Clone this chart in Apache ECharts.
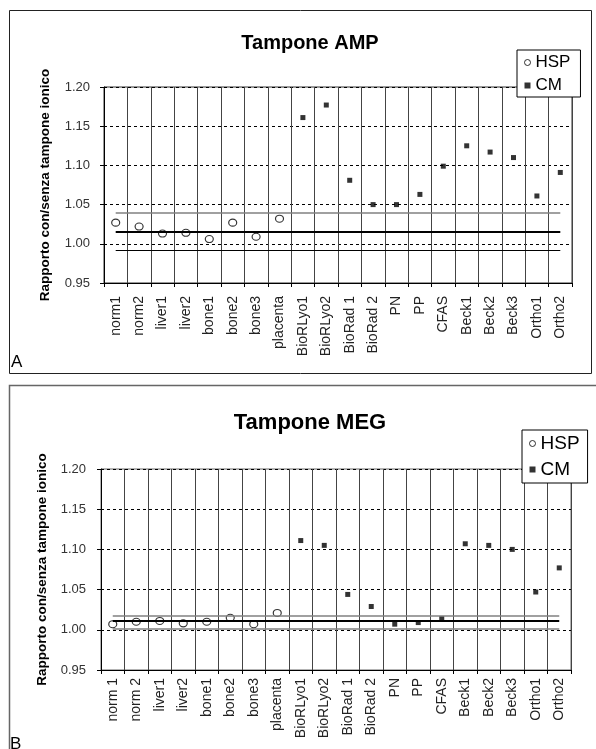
<!DOCTYPE html>
<html>
<head>
<meta charset="utf-8">
<script src="https://cdn.jsdelivr.net/npm/echarts@6/dist/echarts.min.js"></script>
<style>
html,body{margin:0;padding:0;background:#fff;}
#c{width:596px;height:749px;}
</style>
</head>
<body>
<div id="c"></div>
<script>
// ---- data ----
const catsA = ['norm1','norm2','liver1','liver2','bone1','bone2','bone3','placenta','BioRLyo1','BioRLyo2','BioRad 1','BioRad 2','PN','PP','CFAS','Beck1','Beck2','Beck3','Ortho1','Ortho2'];
const catsB = ['norm 1','norm 2','liver1','liver2','bone1','bone2','bone3','placenta','BioRLyo1','BioRLyo2','BioRad 1','BioRad 2','PN','PP','CFAS','Beck1','Beck2','Beck3','Ortho1','Ortho2'];
const hspA = [1.027,1.022,1.013,1.014,1.006,1.027,1.009,1.032,null,null,null,null,null,null,null,null,null,null,null,null];
const cmA  = [null,null,null,null,null,null,null,null,1.161,1.177,1.081,1.050,1.050,1.063,1.099,1.125,1.117,1.110,1.061,1.091];
const refA = [1.040, 1.016, 0.992];
const hspB = [1.007,1.010,1.011,1.008,1.010,1.015,1.007,1.021,null,null,null,null,null,null,null,null,null,null,null,null];
const cmB  = [null,null,null,null,null,null,null,null,1.111,1.105,1.044,1.029,1.007,1.009,1.014,1.107,1.105,1.100,1.047,1.077];
const refB = [1.018, 1.011, 1.001];
const yTicks = [0.95, 1.00, 1.05, 1.10, 1.15, 1.20];
const titleA = 'Tampone AMP';
const titleB = 'Tampone MEG';
const yName = 'Rapporto con/senza tampone ionico';
const seriesNames = ['HSP','CM'];

// ---- styles ----
const FONT = '"Liberation Sans", Arial, sans-serif';
const refStylesA = [
  {color:'#808080', width:1.5, type:'solid'},
  {color:'#000', width:2, type:'solid'},
  {color:'#000', width:1, type:'solid'}
];
const refStylesB = [
  {color:'#808080', width:1.5, type:'solid'},
  {color:'#000', width:2, type:'solid'},
  {color:'#808080', width:1.5, type:'solid'}
];
const hspStyle = {color:'#fff', borderColor:'#000', borderWidth:1.1};
const cmStyle = {color:'#000', borderWidth:0};

function xAx(idx, cats, margin){
  return {
    type:'category', gridIndex: idx, data: cats, boundaryGap: true,
    axisLine:{show:true, lineStyle:{color:'#000', width:1}},
    axisTick:{show:true, length:4, inside:false, lineStyle:{color:'#000'}},
    axisLabel:{interval:0, rotate:90, fontFamily:FONT, fontSize:14, color:'#222', margin: margin},
    splitLine:{show:true, lineStyle:{color:'#444', width:1}}
  };
}
function yAx(idx, gap, margin){
  return {
    type:'value', gridIndex: idx, min: yTicks[0], max: yTicks[yTicks.length-1], interval: 0.05,
    axisLine:{show:true, lineStyle:{color:'#000', width:1}},
    axisTick:{show:true, length:4, inside:false, lineStyle:{color:'#000'}},
    axisLabel:{fontFamily:FONT, fontSize:13, color:'#333', margin: margin, formatter: v => v.toFixed(2)},
    splitLine:{show:true, lineStyle:{color:'#000', width:1, type:[3,3]}},
    name: yName, nameLocation:'middle', nameRotate:90, nameGap: gap,
    nameTextStyle:{fontFamily:FONT, fontSize:13.5, fontWeight:'bold', color:'#000'}
  };
}
function refLines(cats, vals, styles){
  return {
    symbol:'none', silent:true, label:{show:false}, animation:false,
    emphasis:{disabled:true},
    data: vals.map((v,i)=>[
      {coord:[cats[0], v], lineStyle: styles[i]},
      {coord:[cats[cats.length-1], v], lineStyle: styles[i]}
    ])
  };
}
function legendData(){
  return [
    {name:seriesNames[0], icon:'circle', itemStyle:{color:'#fff', borderColor:'#000', borderWidth:1}},
    {name:seriesNames[1], icon:'rect', itemStyle:{color:'#000', borderWidth:0}}
  ];
}

const chart = echarts.init(document.getElementById('c'), null, {renderer:'canvas'});
chart.setOption({
  animation:false,
  backgroundColor:'#fff',
  title:[
    {text:titleA, left:305, top:28, textAlign:'center', textStyle:{fontFamily:FONT, fontSize:20, fontWeight:'bold', color:'#000'}},
    {text:titleB, left:305, top:407, textAlign:'center', textStyle:{fontFamily:FONT, fontSize:22, fontWeight:'bold', color:'#000'}}
  ],
  legend:[
    {left:517, top:50, orient:'vertical', borderColor:'#000', borderWidth:1, backgroundColor:'#fff', padding:[4,10,3,7], itemGap:6,
     itemWidth:6, itemHeight:6, z:10, textStyle:{fontFamily:FONT, fontSize:17, color:'#000'},
     data: legendData()},
    {left:522, top:430, orient:'vertical', borderColor:'#000', borderWidth:1, backgroundColor:'#fff', padding:[4,8,4,7], itemGap:7,
     itemWidth:6, itemHeight:6, z:10, textStyle:{fontFamily:FONT, fontSize:19, color:'#000'},
     data: legendData()}
  ],
  grid:[
    {left:104, top:87, width:468, height:196, show:true, borderColor:'#333', borderWidth:1},
    {left:101, top:469, width:470, height:201, show:true, borderColor:'#666', borderWidth:1}
  ],
  xAxis:[xAx(0, catsA, 13), xAx(1, catsB, 8)],
  yAxis:[yAx(0, 52, 14), yAx(1, 52, 15)],
  series:[
    {name:seriesNames[0], type:'scatter', xAxisIndex:0, yAxisIndex:0, data:hspA, symbol:'circle', symbolSize:[8,7],
     itemStyle:hspStyle, markLine: refLines(catsA, refA, refStylesA), z:3},
    {name:seriesNames[1], type:'scatter', xAxisIndex:0, yAxisIndex:0, data:cmA, symbol:'rect', symbolSize:[5,5],
     itemStyle:cmStyle, z:3},
    {name:seriesNames[0], type:'scatter', xAxisIndex:1, yAxisIndex:1, data:hspB, symbol:'circle', symbolSize:[8,7],
     itemStyle:hspStyle, markLine: refLines(catsB, refB, refStylesB), z:3},
    {name:seriesNames[1], type:'scatter', xAxisIndex:1, yAxisIndex:1, data:cmB, symbol:'rect', symbolSize:[5,5],
     itemStyle:cmStyle, z:3}
  ],
  graphic:[
    {type:'rect', shape:{x:9.5, y:10.5, width:582, height:363}, style:{fill:null, stroke:'#222', lineWidth:1}, silent:true},
    {type:'rect', shape:{x:9.5, y:385.5, width:600, height:400}, style:{fill:null, stroke:'#666', lineWidth:1.5}, silent:true},
    {type:'text', left:11, top:354, style:{text:'A', fontFamily:FONT, fontSize:17, fill:'#000'}, silent:true},
    {type:'text', left:10, top:736, style:{text:'B', fontFamily:FONT, fontSize:17, fill:'#000'}, silent:true}
  ]
});
</script>
</body>
</html>
